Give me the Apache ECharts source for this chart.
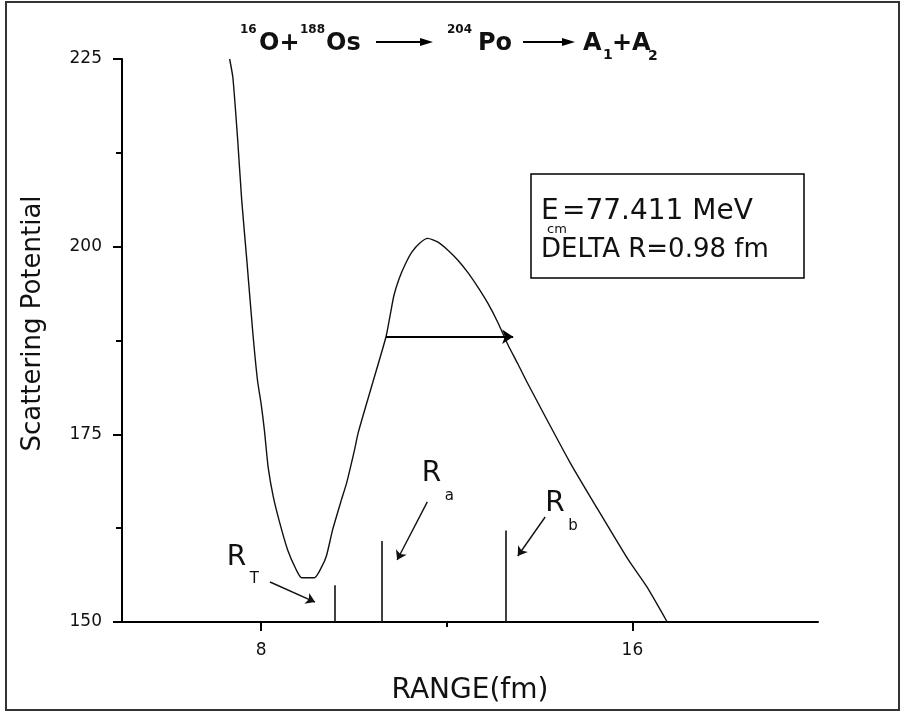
<!DOCTYPE html>
<html>
<head>
<meta charset="utf-8">
<script src="https://cdn.jsdelivr.net/npm/echarts@6/dist/echarts.min.js"></script>
<style>
  html, body { margin: 0; padding: 0; background: #fff; }
  #chart { width: 906px; height: 719px; }
</style>
</head>
<body>
<div id="chart"></div>
<script>
// Scattering potential V(R) for 16O + 188Os -> 204Po -> A1 + A2
const rangeFm = [7.32, 7.39, 7.49, 7.58, 7.69, 7.82, 7.92, 8.00, 8.07, 8.15,
  8.26, 8.40, 8.57, 8.76, 8.87, 9.15, 9.30, 9.41, 9.54, 9.73,
  9.84, 10.01, 10.09, 10.39, 10.69, 10.78, 10.86, 10.97, 11.10, 11.25,
  11.42, 11.59, 11.81, 12.03, 12.24, 12.46, 12.67, 12.89, 13.10, 13.32,
  13.53, 13.75, 14.66, 15.39, 15.91, 16.31, 16.75];
const potential = [225.0, 222.5, 214.5, 206.2, 198.2, 188.5, 182.2, 179.0, 175.5, 170.6,
  166.7, 163.2, 159.6, 156.9, 155.9, 155.9, 157.3, 158.9, 162.3, 166.3,
  168.5, 172.9, 175.2, 181.6, 188.0, 190.9, 193.5, 195.7, 197.6, 199.3,
  200.5, 201.1, 200.6, 199.5, 198.2, 196.5, 194.6, 192.4, 189.9, 186.9,
  184.4, 181.7, 171.2, 163.6, 158.3, 154.7, 150.0];

// Axis ticks
const xTickValues = [8, 16];
const xMinorTickValues = [12];

// Radii R_T, R_a, R_b: position and marker height
const markerNames = ['T', 'a', 'b'];
const markerRange = [9.58, 10.60, 13.27];
const markerTop = [154.9, 160.8, 162.2];

// Pointer arrows from each label to its marker
const pointerTail = [[8.19, 155.33], [11.58, 166.0], [14.12, 163.99]];
const pointerHead = [[9.16, 152.66], [10.93, 158.26], [13.53, 158.79]];
// Label anchors (left edge / bottom of the "R")
const labelAnchor = [[7.26, 156.66], [11.46, 167.83], [14.12, 163.83]];

// Tunnelling width at E_cm
const tunnelStart = [10.69, 188.0];
const tunnelEnd = [13.43, 188.0];

const FONT = 'DejaVu Sans';
const INK = '#111';

const chart = echarts.init(document.getElementById('chart'), null, { renderer: 'canvas' });

function txt(text, x, y, size, weight, extra) {
  return {
    type: 'text', x: x, y: y, silent: true,
    style: Object.assign({
      text: text, fill: INK, font: (weight || 'normal') + ' ' + size + 'px "' + FONT + '"',
      align: 'left', verticalAlign: 'middle'
    }, extra || {})
  };
}

function headArrow(x1, x2, y, headLen, headHalf) {
  return {
    type: 'group', silent: true,
    children: [
      { type: 'line', shape: { x1: x1, y1: y, x2: x2 - headLen + 2, y2: y }, style: { stroke: '#000', lineWidth: 2 } },
      { type: 'polygon', shape: { points: [[x2, y], [x2 - headLen, y - headHalf], [x2 - headLen, y + headHalf]] }, style: { fill: '#000' } }
    ]
  };
}

const option = {
  animation: false,
  backgroundColor: '#fff',
  grid: { left: 122, right: 88, top: 59, bottom: 97, containLabel: false },
  xAxis: [{
    type: 'value', min: 5, max: 20, position: 'bottom',
    name: 'RANGE(fm)', nameLocation: 'middle', nameGap: 55,
    nameTextStyle: { fontFamily: FONT, fontSize: 28, color: INK },
    axisLine: { show: true, onZero: false, lineStyle: { color: '#000', width: 2 } },
    axisTick: { show: true, length: 9, customValues: xTickValues, lineStyle: { color: '#000', width: 2 } },
    axisLabel: { customValues: xTickValues, margin: 20, fontFamily: FONT, fontSize: 17, color: INK },
    splitLine: { show: false }
  }, {
    type: 'value', min: 5, max: 20, position: 'bottom', gridIndex: 0,
    axisLine: { show: false },
    axisTick: { show: true, length: 5, customValues: xMinorTickValues, lineStyle: { color: '#000', width: 2 } },
    axisLabel: { show: false },
    splitLine: { show: false }
  }],
  yAxis: {
    type: 'value', min: 150, max: 225, interval: 25,
    name: 'Scattering Potential', nameLocation: 'middle', nameGap: 76,
    nameTextStyle: { fontFamily: FONT, fontSize: 26, color: INK, padding: [0, 0, 0, 34] },
    axisLine: { show: true, onZero: false, lineStyle: { color: '#000', width: 2 } },
    axisTick: { show: true, length: 9, lineStyle: { color: '#000', width: 2 } },
    minorTick: { show: true, splitNumber: 2, length: 6, lineStyle: { color: '#000', width: 2 } },
    axisLabel: { margin: 20, fontFamily: FONT, fontSize: 17, color: INK },
    splitLine: { show: false }
  },
  series: [{
    name: 'V(R)', type: 'line', xAxisIndex: 0,
    data: rangeFm.map((r, i) => [r, potential[i]]),
    showSymbol: false, symbol: 'none', smooth: 0.2, clip: true,
    lineStyle: { color: '#111', width: 1.4 },
    silent: true
  }, {
    name: 'radii', type: 'line', xAxisIndex: 0, data: [],
    markLine: {
      silent: true, symbol: ['none', 'none'], animation: false,
      label: { show: false },
      lineStyle: { color: '#111', width: 1.6, type: 'solid' },
      data: markerRange.map((r, i) => [{ coord: [r, 150] }, { coord: [r, markerTop[i]] }])
    }
  }, {
    name: 'pointers', type: 'line', xAxisIndex: 0, data: [],
    markLine: {
      silent: true, symbol: ['none', 'arrow'], symbolSize: 9, animation: false,
      label: { show: false },
      lineStyle: { color: '#111', width: 1.4, type: 'solid' },
      data: pointerTail.map((p, i) => [{ coord: p }, { coord: pointerHead[i] }])
    }
  }, {
    name: 'tunnel', type: 'line', xAxisIndex: 0, data: [],
    markLine: {
      silent: true, symbol: ['none', 'arrow'], symbolSize: 11, animation: false,
      label: { show: false },
      lineStyle: { color: '#000', width: 1.8, type: 'solid' },
      data: [[{ coord: tunnelStart }, { coord: tunnelEnd }]]
    }
  }]
};

chart.setOption(option);

// Labels R_T, R_a, R_b placed in data coordinates
const radiusLabels = [];
labelAnchor.forEach((a, i) => {
  const p = chart.convertToPixel({ gridIndex: 0 }, a);
  radiusLabels.push(txt('R', p[0], p[1], 28, 'normal', { verticalAlign: 'bottom' }));
  radiusLabels.push(txt(markerNames[i], p[0] + 23, p[1] + 15, 15, 'normal', { verticalAlign: 'bottom' }));
});

const graphic = [
  // outer frame
  { type: 'rect', silent: true, shape: { x: 6, y: 2, width: 893, height: 708 }, style: { fill: 'none', stroke: '#333', lineWidth: 2 } },
  // reaction title
  txt('16', 240, 30, 12, 'bold'),
  txt('O+', 259, 44, 24, 'bold'),
  txt('188', 300, 30, 12, 'bold'),
  txt('Os', 326, 44, 24, 'bold'),
  headArrow(376, 433, 42, 13, 4),
  txt('204', 447, 30, 12, 'bold'),
  txt('Po', 478, 44, 24, 'bold'),
  headArrow(523, 575, 42, 13, 4),
  txt('A', 583, 44, 24, 'bold'),
  txt('1', 603, 55, 14, 'bold'),
  txt('+A', 612, 44, 24, 'bold'),
  txt('2', 648, 56, 14, 'bold'),
  // parameter box
  { type: 'rect', silent: true, shape: { x: 531, y: 174, width: 273, height: 104 }, style: { fill: '#fff', stroke: '#000', lineWidth: 1.5 } },
  txt('E', 541, 212, 28),
  txt('cm', 547, 230, 13),
  txt('=77.411 MeV', 562, 212, 28),
  txt('DELTA R=0.98 fm', 541, 250, 26)
].concat(radiusLabels);

chart.setOption({ graphic: graphic });
</script>
</body>
</html>
